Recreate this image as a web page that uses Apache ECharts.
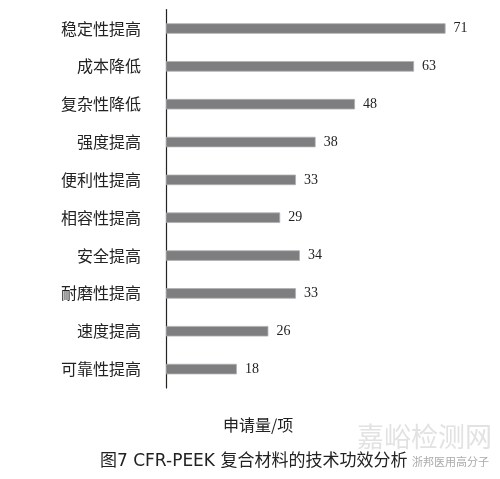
<!DOCTYPE html>
<html>
<head>
<meta charset="utf-8">
<script src="https://cdn.jsdelivr.net/npm/echarts@6/dist/echarts.min.js"></script>
<style>
html,body{margin:0;padding:0;background:#fff;}
#chart{width:500px;height:479px;}
</style>
</head>
<body>
<div id="chart"></div>
<script>
var categories = ['稳定性提高','成本降低','复杂性降低','强度提高','便利性提高','相容性提高','安全提高','耐磨性提高','速度提高','可靠性提高'];
var counts = [71, 63, 48, 38, 33, 29, 34, 33, 26, 18];
var axisName = '申请量/项';
var caption = '图7 CFR-PEEK 复合材料的技术功效分析';
var watermark = '嘉峪检测网';
var watermarkSub = '浙邦医用高分子';

var chart = echarts.init(document.getElementById('chart'));
chart.setOption({
  animation: false,
  backgroundColor: '#fff',
  title: [
    {text: axisName, left: 218, top: 412,
     textStyle: {fontSize: 16, fontWeight: 'normal', color: '#222', fontFamily: 'Noto Sans CJK SC'}},
    {text: watermark, left: 352, top: 418,
     textStyle: {fontSize: 27, fontWeight: 'normal', color: '#e2e2e2', fontFamily: 'Noto Sans CJK SC'}},
    {text: caption, left: 95, top: 448,
     textStyle: {fontSize: 17, fontWeight: 'normal', color: '#222', fontFamily: 'DejaVu Sans, Noto Sans CJK SC'}},
    {text: watermarkSub, left: 407, top: 451,
     textStyle: {fontSize: 11, fontWeight: 'normal', color: '#aaa', fontFamily: 'Noto Sans CJK SC'}}
  ],
  grid: {left: 166, right: 19, top: 9.6, bottom: 91, containLabel: false},
  xAxis: {
    type: 'value', min: 0, max: 80, show: false
  },
  yAxis: {
    type: 'category', data: categories, inverse: true,
    axisLine: {show: true, lineStyle: {color: '#222', width: 1.2}},
    axisTick: {show: false},
    axisLabel: {margin: 25, fontSize: 16, color: '#222', fontFamily: 'Noto Sans CJK SC'}
  },
  series: [{
    type: 'bar', data: counts, barWidth: 10.5,
    itemStyle: {color: '#7e7e81', borderColor: '#b0b0b0', borderWidth: 0.8},
    label: {show: true, position: 'right', distance: 8, fontSize: 14,
            color: '#222', fontFamily: 'Liberation Serif'}
  }]
});
</script>
</body>
</html>
